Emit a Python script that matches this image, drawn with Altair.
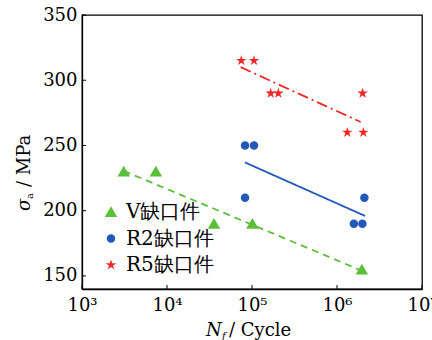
import altair as alt
import pandas as pd

# ---- data ----
v_n = [3100, 7400, 35700, 101000, 1960000]
v_s = [230, 230, 190, 190, 155]
r2_n = [82800, 105600, 82800, 1580000, 1990000, 2100000]
r2_s = [250, 250, 210, 190, 190, 210]
r5_n = [74800, 105600, 166000, 204000, 1320000, 2040000, 2000000]
r5_s = [315, 315, 290, 290, 260, 260, 290]

# fitted lines (endpoints)
v_fit_n = [3100, 1960000]
v_fit_s = [230.5, 154]
r2_fit_n = [82800, 2140000]
r2_fit_s = [237, 196]
r5_fit_n = [73600, 1900000]
r5_fit_s = [310, 268]

series = ["V缺口件", "R2缺口件", "R5缺口件"]
colors = ["#5cbf3a", "#2358bb", "#f02828"]
x_ticks = [1000, 10000, 100000, 1000000, 10000000]
y_ticks = [150, 200, 250, 300, 350]

# marker shapes (unit paths; drawn at a fixed symbol size)
TRI = "M0,-1.15L1.25,1L-1.25,1Z"
CIRC = "M0.85,0A0.85,0.85 0 1,1 -0.85,0A0.85,0.85 0 1,1 0.85,0Z"
STAR = ("M0,-1.1L0.247,-0.34L1.046,-0.34L0.399,0.13L0.646,0.89L0,0.42"
        "L-0.646,0.89L-0.399,0.13L-1.046,-0.34L-0.247,-0.34Z")

pts = pd.concat([
    pd.DataFrame({"n": v_n, "s": v_s, "series": series[0]}),
    pd.DataFrame({"n": r2_n, "s": r2_s, "series": series[1]}),
    pd.DataFrame({"n": r5_n, "s": r5_s, "series": series[2]}),
], ignore_index=True)

fits = [
    pd.DataFrame({"n": v_fit_n, "s": v_fit_s}),
    pd.DataFrame({"n": r2_fit_n, "s": r2_fit_s}),
    pd.DataFrame({"n": r5_fit_n, "s": r5_fit_s}),
]
dashes = [[7, 5], [1, 0], [11, 4, 2, 4]]

FONT = "DejaVu Serif, serif"

xscale = alt.Scale(type="log", domain=[1000, 10000000], nice=False)
yscale = alt.Scale(domain=[140, 350], nice=False, zero=False)

X = alt.X("n:Q", scale=xscale,
          axis=alt.Axis(values=x_ticks, title=None, ticks=False, grid=False,
                        labelExpr="'10' + ['³','⁴','⁵','⁶','⁷'][round(log(datum.value)/LN10)-3]",
                        labelFont=FONT, labelFontSize=18, labelColor="black",
                        labelPadding=7, domainColor="black", labelFlush=False))
Y = alt.Y("s:Q", scale=yscale,
          axis=alt.Axis(values=y_ticks, title=None, ticks=False, grid=False,
                        labelFont=FONT, labelFontSize=18, labelColor="black",
                        labelPadding=5, domainColor="black"))

points = alt.Chart(pts).mark_point(filled=True, opacity=1, size=100, strokeWidth=0).encode(
    x=X, y=Y,
    color=alt.Color("series:N", scale=alt.Scale(domain=series, range=colors), title=None),
    shape=alt.Shape("series:N", scale=alt.Scale(domain=series, range=[TRI, CIRC, STAR]), title=None),
)

line_layers = []
for df, c, d in zip(fits, colors, dashes):
    line_layers.append(
        alt.Chart(df).mark_line(color=c, strokeWidth=1.8, strokeDash=d).encode(
            x=alt.X("n:Q", scale=xscale), y=alt.Y("s:Q", scale=yscale))
    )

xt = alt.Chart(pd.DataFrame({"n": x_ticks})).mark_rule(color="black", strokeWidth=1).encode(
    x=alt.X("n:Q", scale=xscale), y=alt.value(274), y2=alt.value(270))
yt = alt.Chart(pd.DataFrame({"s": y_ticks})).mark_rule(color="black", strokeWidth=1).encode(
    y=alt.Y("s:Q", scale=yscale), x=alt.value(0), x2=alt.value(4))

def txt(t, x, y, size=18, style="normal", angle=0):
    return alt.Chart(pd.DataFrame({"t": [t]})).mark_text(
        font=FONT, fontSize=size, fontStyle=style, align="left",
        baseline="alphabetic", angle=angle, color="black").encode(
        text="t:N", x=alt.value(x), y=alt.value(y))

titles = [
    txt("N", 124, 321, style="italic"),
    txt("f", 140, 324, size=10, style="italic"),
    txt("/ Cycle", 147, 321),
    txt("σ", -52, 196, style="italic", angle=270),
    txt("a", -49, 184, size=10, angle=270),
    txt("/ MPa", -52, 172, angle=270),
]

chart = alt.layer(*line_layers, points, xt, yt, *titles).properties(
    width=340, height=274,
    padding={"left": 82, "top": 15, "right": 10, "bottom": 51},
    autosize=alt.AutoSizeParams(type="none"),
).configure_view(stroke="black", strokeWidth=1.3
).configure_axis(domainWidth=1.3
).configure_legend(
    orient="none", legendX=19, legendY=187, padding=0,
    labelFont=FONT, labelFontSize=20, labelColor="black",
    rowPadding=6.5, labelOffset=5, symbolStrokeWidth=0, symbolSize=100,
)

chart.save("out.html", embed_options={"renderer": "svg", "actions": False})
